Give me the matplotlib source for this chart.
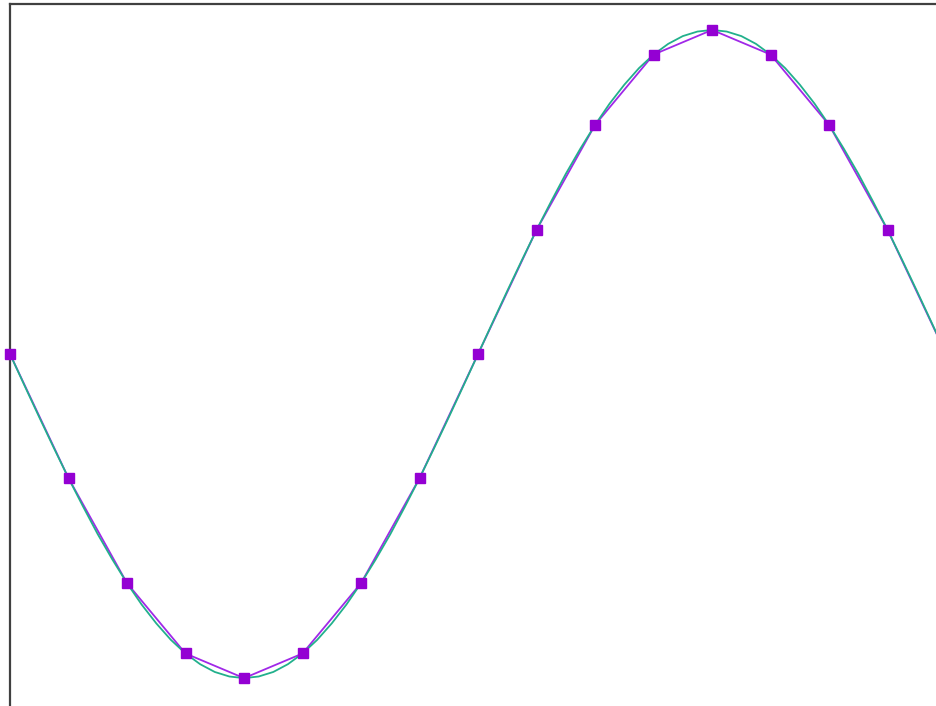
import numpy as np
import matplotlib.pyplot as plt

# sampled points (angle in degrees, value)
angles = [0, 22.5, 45, 67.5, 90, 112.5, 135, 157.5, 180,
          202.5, 225, 247.5, 270, 292.5, 315, 337.5, 360]
samples = [0, -0.383, -0.707, -0.924, -1.0, -0.924, -0.707, -0.383, 0,
           0.383, 0.707, 0.924, 1.0, 0.924, 0.707, 0.383, 0]

# finer reference curve, every 5.625 degrees
fine_angles = [i * 5.625 for i in range(65)]
fine_values = [0, -0.098, -0.195, -0.290, -0.383, -0.471, -0.556, -0.634,
               -0.707, -0.773, -0.831, -0.882, -0.924, -0.957, -0.981, -0.995,
               -1.0, -0.995, -0.981, -0.957, -0.924, -0.882, -0.831, -0.773,
               -0.707, -0.634, -0.556, -0.471, -0.383, -0.290, -0.195, -0.098,
               0, 0.098, 0.195, 0.290, 0.383, 0.471, 0.556, 0.634,
               0.707, 0.773, 0.831, 0.882, 0.924, 0.957, 0.981, 0.995,
               1.0, 0.995, 0.981, 0.957, 0.924, 0.882, 0.831, 0.773,
               0.707, 0.634, 0.556, 0.471, 0.383, 0.290, 0.195, 0.098,
               0]

W, H = 937, 706
fig = plt.figure(figsize=(W / 100, H / 100), dpi=100)
ax = fig.add_axes([10 / W, 0, (W - 10) / W, (H - 4) / H])

ax.plot(angles, samples, color='#a028e8', lw=1.3, zorder=2)
ax.plot(fine_angles, fine_values, color='#22b08c', lw=1.3, zorder=3)
ax.plot(angles, samples, ls='none', marker='s', ms=7.8,
        color='#9400d3', mec='#9400d3', zorder=4, clip_on=False)

ax.set_xlim(0, 356.5)
ax.set_ylim(-1.086, 1.080)
ax.set_xticks([])
ax.set_yticks([])
for side in ['right', 'bottom']:
    ax.spines[side].set_visible(False)
for side in ['left', 'top']:
    ax.spines[side].set_color('#404040')
    ax.spines[side].set_linewidth(1.6)

fig.savefig('out.png', dpi=100)
